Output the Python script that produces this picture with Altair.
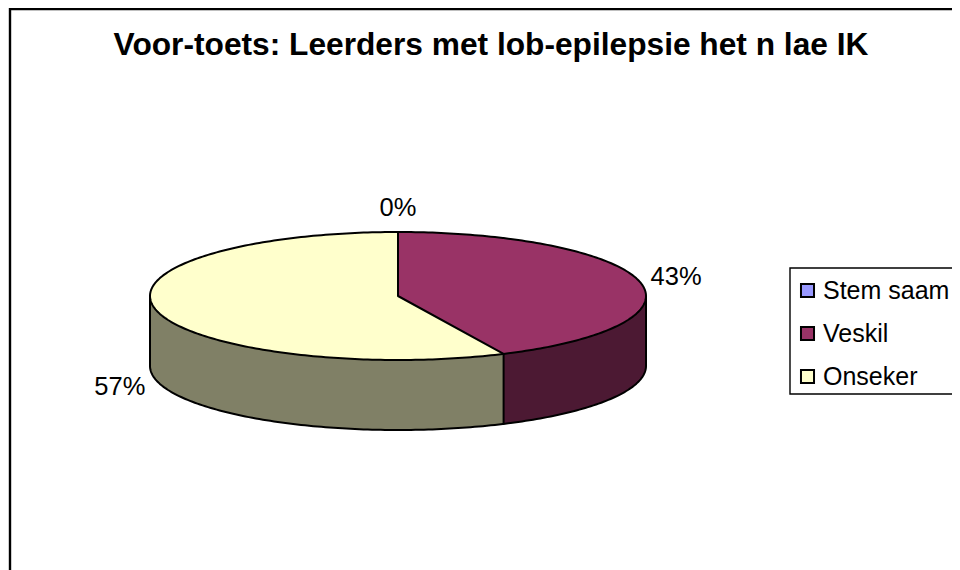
import math
import altair as alt
import pandas as pd

# --- chart values
categories = ["Stem saam", "Veskil", "Onseker"]
percentages = [0, 43, 57]
top_colors = ["#9999FF", "#993366", "#FFFFCC"]
wall_colors = ["#4C1933", "#808066"]
title_text = "Voor-toets: Leerders met lob-epilepsie het n lae IK"

FONT = "Liberation Sans"
W, H = 944, 562
CX, CY, RX, RY, DEPTH = 390, 288, 248, 64, 70   # pie geometry in chart units


def half(x):
    u = max(-1.0, min(1.0, (x - CX) / RX))
    return RY * math.sqrt(1 - u * u)


split = math.radians(percentages[1] * 3.6)
xb, yb = CX + RX * math.sin(split), CY - RY * math.cos(split)


def radial(x):
    return CY + (yb - CY) * (x - CX) / (xb - CX)


def grid(a_deg, b_deg, extra=()):
    vals = [a_deg + (b_deg - a_deg) * i / 90 for i in range(91)] + list(extra)
    return sorted(CX + RX * math.sin(math.radians(v)) for v in vals)


knot = math.degrees(math.asin((xb - CX) / RX))
xs_right = grid(0, 90, [knot])
xs_left = grid(-90, 0)

top_rows = []
for x in xs_right:
    low = radial(x) if x < xb else CY + half(x)
    top_rows.append(dict(name=categories[1], x=x, y=CY - half(x), y2=low))
for x in xs_left:
    top_rows.append(dict(name=categories[2], x=x, y=CY - half(x), y2=CY + half(x)))
for x in xs_right:
    if x <= xb:
        top_rows.append(dict(name=categories[2], x=x, y=radial(x), y2=CY + half(x)))
top = pd.DataFrame(top_rows)

wall_a = pd.DataFrame([dict(x=x, y=CY + half(x), y2=CY + half(x) + DEPTH) for x in xs_right if x >= xb])
wall_b = pd.DataFrame([dict(x=x, y=CY + half(x), y2=CY + half(x) + DEPTH) for x in xs_left + xs_right if x <= xb])

# outlines
lines = []


def add(group, pts):
    for i, (x, y) in enumerate(pts):
        lines.append(dict(g=group, o=i, x=x, y=y))


all_x = xs_left + xs_right[1:]
add("top-up", [(x, CY - half(x)) for x in all_x])
add("top-low", [(x, CY + half(x)) for x in all_x])
add("bottom", [(x, CY + half(x) + DEPTH) for x in all_x])
add("left", [(CX - RX, CY), (CX - RX, CY + DEPTH)])
add("right", [(CX + RX, CY), (CX + RX, CY + DEPTH)])
add("seam", [(xb, yb), (xb, yb + DEPTH)])
add("r1", [(CX, CY - RY), (CX, CY), (xb, yb)])
outline = pd.DataFrame(lines)

# labels, placed from each slice's mid angle
labels = []
start = 0.0
for p in percentages:
    mid = math.radians((start + p / 2) * 3.6)
    start += p
    s, c = math.sin(mid), math.cos(mid)
    labels.append(dict(t=f"{p}%", x=CX + 285 * s, y=CY - 88 * c + (DEPTH + 2 if c < 0 else 0)))
label_df = pd.DataFrame(labels)

X = alt.X("x:Q", scale=alt.Scale(domain=[0, W], range=[0, W]), axis=None)
Y = alt.Y("y:Q", scale=alt.Scale(domain=[0, H], range=[0, H]), axis=None)

frame = alt.Chart(pd.DataFrame([dict(x=2, x2=W + 60, y=1, y2=H + 60)])).mark_rect(
    fill="white", stroke="black", strokeWidth=2.4
).encode(X, x2="x2:Q", y=Y, y2="y2:Q")

legend_box = alt.Chart(pd.DataFrame([dict(x=782, x2=W + 60, y=260, y2=386)])).mark_rect(
    fill="white", stroke="black", strokeWidth=1.4
).encode(X, x2="x2:Q", y=Y, y2="y2:Q")

wall1 = alt.Chart(wall_a).mark_area(fill=wall_colors[0]).encode(X, Y, y2="y2:Q")
wall2 = alt.Chart(wall_b).mark_area(fill=wall_colors[1]).encode(X, Y, y2="y2:Q")

tops = alt.Chart(top).mark_area().encode(
    X, Y, y2="y2:Q",
    color=alt.Color(
        "name:N",
        scale=alt.Scale(domain=categories, range=top_colors),
        legend=alt.Legend(
            orient="none", legendX=778, legendY=261, title=None, symbolType="square",
            symbolSize=170, symbolStrokeColor="black", symbolStrokeWidth=2, symbolOpacity=1,
            labelFont=FONT, labelFontSize=25, labelColor="black", labelOffset=3,
            rowPadding=17, padding=9, labelLimit=300,
        ),
    ),
    detail="name:N",
)

edges = alt.Chart(outline).mark_line(color="black", strokeWidth=2, strokeJoin="round").encode(
    X, Y, detail="g:N", order="o:Q"
)

texts = alt.Chart(label_df).mark_text(font=FONT, fontSize=25.5, color="black", align="center", baseline="middle").encode(
    X, Y, text="t:N"
)

chart = alt.layer(frame, legend_box, wall1, wall2, tops, edges, texts).properties(
    width=W, height=H, padding=0,
    autosize=alt.AutoSizeParams(type="none"),
    title=alt.TitleParams(
        title_text, font=FONT, fontSize=31.7, fontWeight="bold", color="black",
        anchor="middle", dx=11, dy=79, offset=0, baseline="alphabetic",
    ),
    background="white",
).configure_view(stroke=None)

chart.save("out.html", embed_options={"renderer": "svg", "actions": False})
